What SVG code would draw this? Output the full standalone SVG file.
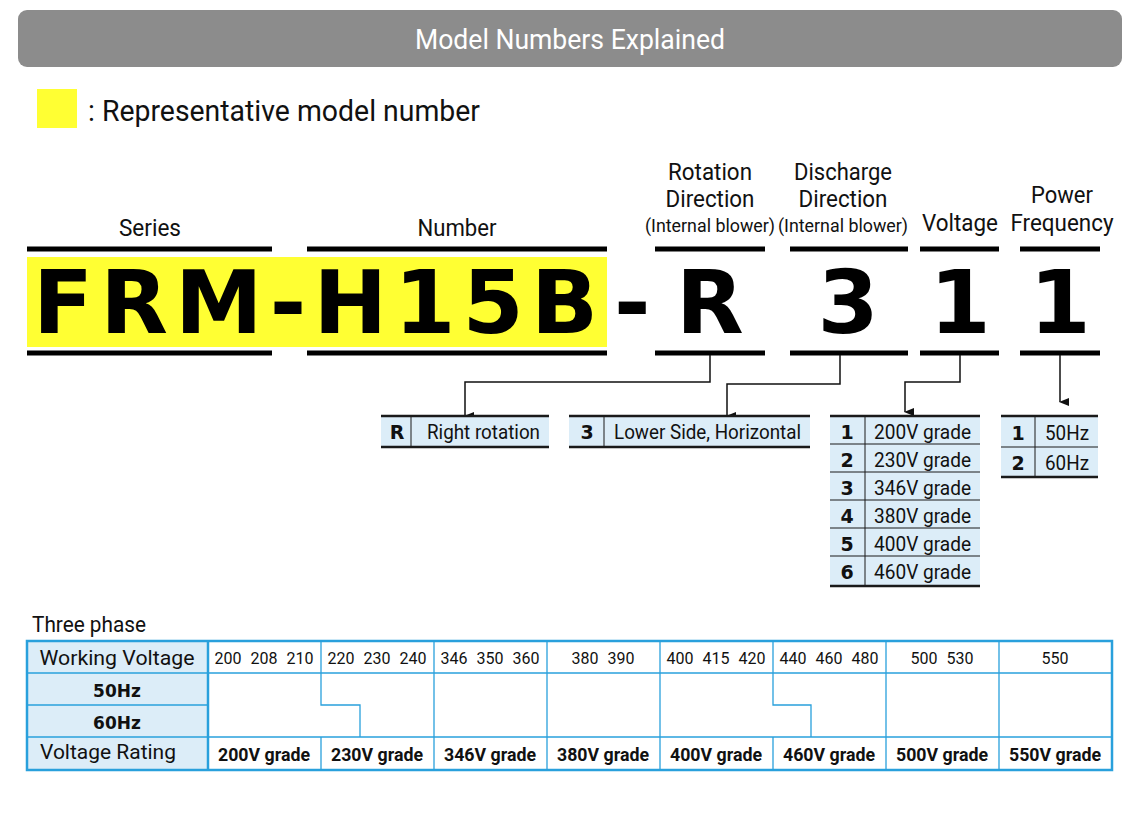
<svg xmlns="http://www.w3.org/2000/svg" width="1140" height="813" viewBox="0 0 1140 813">
<defs>
<marker id="ah" markerWidth="8" markerHeight="10" refX="4" refY="9" orient="auto-start-reverse" markerUnits="userSpaceOnUse"><path d="M0,0 L8,0 L4,10 Z" fill="#111"/></marker>
<style>
.t{font-family:Roboto,"Liberation Sans",sans-serif;fill:#111}
.big{font-family:"DejaVu Sans","Liberation Sans",sans-serif;font-weight:900;font-size:88px;fill:#000}
.k{font-family:"DejaVu Sans","Liberation Sans",sans-serif;font-weight:bold;font-size:19px;fill:#111;text-anchor:middle}
.bar{stroke:#000;stroke-width:5}
.cell{fill:#dcedf8}
.ln{stroke:#1a1a1a;stroke-width:2.5}
.sep{stroke:#1a1a1a;stroke-width:1}
.tb{stroke:#29a0dc;stroke-width:1.3;fill:none}
.con{stroke:#111;stroke-width:1.5;fill:none;marker-end:url(#ah)}
.wv{font-family:Roboto,"Liberation Sans",sans-serif;fill:#111;font-size:16px;text-anchor:middle;word-spacing:5px}
</style>
</defs>
<rect width="1140" height="813" fill="#fff"/>
<g id="header">
<rect x="18" y="10" width="1104" height="57" rx="9" fill="#8c8c8c"/>
<text class="t" x="570" y="49" font-size="27" text-anchor="middle" style="fill:#fff" textLength="310" lengthAdjust="spacingAndGlyphs">Model Numbers Explained</text>
</g>
<g id="legend">
<rect x="37" y="89" width="40" height="39" fill="#ffff33"/>
<text class="t" x="88" y="121" font-size="29" textLength="392" lengthAdjust="spacingAndGlyphs">: Representative model number</text>
</g>
<g id="labels">
<text class="t" x="150" y="236" text-anchor="middle" font-size="23" textLength="62" lengthAdjust="spacingAndGlyphs">Series</text>
<text class="t" x="457" y="236" text-anchor="middle" font-size="23" textLength="79" lengthAdjust="spacingAndGlyphs">Number</text>
<text class="t" x="710" y="180" text-anchor="middle" font-size="23" textLength="84" lengthAdjust="spacingAndGlyphs">Rotation</text>
<text class="t" x="710" y="207" text-anchor="middle" font-size="23" textLength="89" lengthAdjust="spacingAndGlyphs">Direction</text>
<text class="t" x="710" y="232" text-anchor="middle" font-size="18" textLength="130" lengthAdjust="spacingAndGlyphs">(Internal blower)</text>
<text class="t" x="843" y="180" text-anchor="middle" font-size="23" textLength="98" lengthAdjust="spacingAndGlyphs">Discharge</text>
<text class="t" x="843" y="207" text-anchor="middle" font-size="23" textLength="89" lengthAdjust="spacingAndGlyphs">Direction</text>
<text class="t" x="843" y="232" text-anchor="middle" font-size="18" textLength="130" lengthAdjust="spacingAndGlyphs">(Internal blower)</text>
<text class="t" x="960" y="231" text-anchor="middle" font-size="23" textLength="76" lengthAdjust="spacingAndGlyphs">Voltage</text>
<text class="t" x="1062" y="203" text-anchor="middle" font-size="23" textLength="62" lengthAdjust="spacingAndGlyphs">Power</text>
<text class="t" x="1062" y="231" text-anchor="middle" font-size="23" textLength="103" lengthAdjust="spacingAndGlyphs">Frequency</text>
</g>
<g id="code">
<rect x="27" y="257" width="580" height="90" fill="#ffff33"/>
<line class="bar" x1="27" y1="249" x2="272" y2="249"/>
<line class="bar" x1="307" y1="249" x2="607" y2="249"/>
<line class="bar" x1="655" y1="249" x2="765" y2="249"/>
<line class="bar" x1="790" y1="249" x2="908" y2="249"/>
<line class="bar" x1="920" y1="249" x2="999" y2="249"/>
<line class="bar" x1="1020" y1="249" x2="1100" y2="249"/>
<line class="bar" x1="27" y1="353" x2="272" y2="353"/>
<line class="bar" x1="307" y1="353" x2="607" y2="353"/>
<line class="bar" x1="655" y1="353" x2="765" y2="353"/>
<line class="bar" x1="790" y1="353" x2="908" y2="353"/>
<line class="bar" x1="920" y1="353" x2="999" y2="353"/>
<line class="bar" x1="1020" y1="353" x2="1100" y2="353"/>
<text class="big" x="33" y="333" textLength="565" lengthAdjust="spacing">FRM-H15B</text>
<text class="big" x="614" y="333">-</text>
<text class="big" x="710" y="333" text-anchor="middle">R</text>
<text class="big" x="848" y="333" text-anchor="middle">3</text>
<text class="big" x="960" y="333" text-anchor="middle">1</text>
<text class="big" x="1060" y="333" text-anchor="middle">1</text>
</g>
<g id="connectors">
<path class="con" d="M710,355 V382 H465 V416"/>
<path class="con" d="M840,355 V384 H727 V416"/>
<path class="con" d="M960,355 V382 H905 V412"/>
<path class="con" d="M1060,355 V402"/>
</g>
<g id="rotation">
<rect class="cell" x="381" y="416" width="168" height="31"/>
<line class="ln" x1="381" y1="416" x2="549" y2="416"/><line class="ln" x1="381" y1="447" x2="549" y2="447"/>
<line class="sep" x1="411" y1="416" x2="411" y2="447"/>
<text class="k" x="397" y="439">R</text>
<text class="t" x="427" y="439" font-size="20" textLength="113" lengthAdjust="spacingAndGlyphs">Right rotation</text>
</g>
<g id="discharge">
<rect class="cell" x="569" y="416" width="241" height="31"/>
<line class="ln" x1="569" y1="416" x2="810" y2="416"/><line class="ln" x1="569" y1="447" x2="810" y2="447"/>
<line class="sep" x1="604" y1="416" x2="604" y2="447"/>
<text class="k" x="587" y="439">3</text>
<text class="t" x="614" y="439" font-size="20" textLength="187" lengthAdjust="spacingAndGlyphs">Lower Side, Horizontal</text>
</g>
<g id="voltage">
<rect class="cell" x="830" y="416" width="150" height="170"/>
<line class="ln" x1="830" y1="416" x2="980" y2="416"/><line class="ln" x1="830" y1="586" x2="980" y2="586"/>
<g class="sep"><line x1="865" y1="416" x2="865" y2="586"/><line x1="830" y1="444" x2="980" y2="444"/><line x1="830" y1="472" x2="980" y2="472"/><line x1="830" y1="500" x2="980" y2="500"/><line x1="830" y1="528" x2="980" y2="528"/><line x1="830" y1="556" x2="980" y2="556"/></g>
<text class="k" x="847" y="439">1</text><text class="k" x="847" y="467">2</text><text class="k" x="847" y="495">3</text><text class="k" x="847" y="523">4</text><text class="k" x="847" y="551">5</text><text class="k" x="847" y="579">6</text>
<text class="t" x="874" y="439" font-size="20" textLength="97" lengthAdjust="spacingAndGlyphs">200V grade</text>
<text class="t" x="874" y="467" font-size="20" textLength="97" lengthAdjust="spacingAndGlyphs">230V grade</text>
<text class="t" x="874" y="495" font-size="20" textLength="97" lengthAdjust="spacingAndGlyphs">346V grade</text>
<text class="t" x="874" y="523" font-size="20" textLength="97" lengthAdjust="spacingAndGlyphs">380V grade</text>
<text class="t" x="874" y="551" font-size="20" textLength="97" lengthAdjust="spacingAndGlyphs">400V grade</text>
<text class="t" x="874" y="579" font-size="20" textLength="97" lengthAdjust="spacingAndGlyphs">460V grade</text>
</g>
<g id="frequency">
<rect class="cell" x="1001" y="416" width="97" height="61"/>
<line class="ln" x1="1001" y1="416" x2="1098" y2="416"/><line class="ln" x1="1001" y1="477" x2="1098" y2="477"/>
<line class="sep" x1="1035" y1="416" x2="1035" y2="477"/><line class="sep" x1="1001" y1="447" x2="1098" y2="447"/>
<text class="k" x="1018" y="440">1</text><text class="k" x="1018" y="470">2</text>
<text class="t" x="1045" y="440" font-size="20" textLength="44" lengthAdjust="spacingAndGlyphs">50Hz</text>
<text class="t" x="1045" y="470" font-size="20" textLength="44" lengthAdjust="spacingAndGlyphs">60Hz</text>
</g>
<g id="phase-table">
<text class="t" x="32" y="632" font-size="22" textLength="114" lengthAdjust="spacingAndGlyphs">Three phase</text>
<rect class="cell" x="27" y="641" width="181" height="129"/>
<g class="tb">
<rect x="27" y="641" width="1085" height="129" stroke-width="2.5"/>
<line x1="208" y1="641" x2="208" y2="770" stroke-width="2.5"/>
<line x1="27" y1="673" x2="1112" y2="673"/>
<line x1="27" y1="705" x2="208" y2="705"/>
<line x1="27" y1="737" x2="1112" y2="737"/>
<line x1="321" y1="641" x2="321" y2="673"/><line x1="321" y1="737" x2="321" y2="770"/>
<path d="M321,673 V705 H360 V737"/>
<line x1="434" y1="641" x2="434" y2="770"/>
<line x1="547" y1="641" x2="547" y2="770"/>
<line x1="660" y1="641" x2="660" y2="770"/>
<line x1="773" y1="641" x2="773" y2="673"/><line x1="773" y1="737" x2="773" y2="770"/>
<path d="M773,673 V705 H811 V737"/>
<line x1="886" y1="641" x2="886" y2="770"/>
<line x1="999" y1="641" x2="999" y2="770"/>
</g>
<text class="t" x="117" y="665" font-size="21" text-anchor="middle" textLength="155" lengthAdjust="spacingAndGlyphs">Working Voltage</text>
<text class="k" x="117" y="697" style="font-size:17px">50Hz</text>
<text class="k" x="117" y="729" style="font-size:17px">60Hz</text>
<text class="t" x="108" y="759" font-size="21" text-anchor="middle" textLength="136" lengthAdjust="spacingAndGlyphs">Voltage Rating</text>
<text class="wv" x="264" y="664">200 208 210</text>
<text class="wv" x="377" y="664">220 230 240</text>
<text class="wv" x="490" y="664">346 350 360</text>
<text class="wv" x="603" y="664">380 390</text>
<text class="wv" x="716" y="664">400 415 420</text>
<text class="wv" x="829" y="664">440 460 480</text>
<text class="wv" x="942" y="664">500 530</text>
<text class="wv" x="1055" y="664">550</text>
<text class="t" x="264" y="761" font-size="19" font-weight="bold" text-anchor="middle" textLength="92" lengthAdjust="spacingAndGlyphs">200V grade</text>
<text class="t" x="377" y="761" font-size="19" font-weight="bold" text-anchor="middle" textLength="92" lengthAdjust="spacingAndGlyphs">230V grade</text>
<text class="t" x="490" y="761" font-size="19" font-weight="bold" text-anchor="middle" textLength="92" lengthAdjust="spacingAndGlyphs">346V grade</text>
<text class="t" x="603" y="761" font-size="19" font-weight="bold" text-anchor="middle" textLength="92" lengthAdjust="spacingAndGlyphs">380V grade</text>
<text class="t" x="716" y="761" font-size="19" font-weight="bold" text-anchor="middle" textLength="92" lengthAdjust="spacingAndGlyphs">400V grade</text>
<text class="t" x="829" y="761" font-size="19" font-weight="bold" text-anchor="middle" textLength="92" lengthAdjust="spacingAndGlyphs">460V grade</text>
<text class="t" x="942" y="761" font-size="19" font-weight="bold" text-anchor="middle" textLength="92" lengthAdjust="spacingAndGlyphs">500V grade</text>
<text class="t" x="1055" y="761" font-size="19" font-weight="bold" text-anchor="middle" textLength="92" lengthAdjust="spacingAndGlyphs">550V grade</text>
</g>
</svg>
